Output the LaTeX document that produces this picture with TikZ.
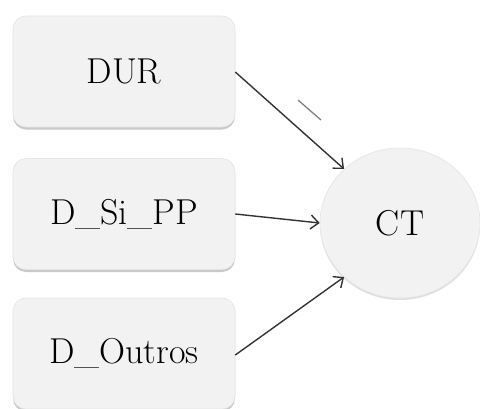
\documentclass[tikz,border=0pt]{standalone}
\usetikzlibrary{shadows,shapes.geometric,arrows.meta}
\definecolor{boxfill}{HTML}{F2F2F2}
\definecolor{boxedge}{HTML}{E4E4E4}
\definecolor{linecol}{HTML}{333333}
\tikzset{
  varbox/.style={draw=boxedge, line width=0.6pt, fill=boxfill, rounded corners=13pt,
    minimum width=222pt, minimum height=111pt, inner sep=0pt,
    drop shadow={shadow xshift=0pt, shadow yshift=-2.5pt, opacity=0.3, fill=black!70},
    font=\fontsize{36}{42}\selectfont},
  target/.style={ellipse, draw=boxedge, line width=0.6pt, fill=boxfill,
    minimum width=160pt, minimum height=150pt, inner sep=0pt,
    drop shadow={shadow xshift=0pt, shadow yshift=-2pt, opacity=0.2, fill=black!60},
    font=\fontsize{36}{42}\selectfont},
  link/.style={draw=linecol, line width=1.4pt,
    -{Straight Barb[length=8pt, width=14pt]}},
}
\begin{document}
\begin{tikzpicture}[x=1pt, y=-1pt]
  \useasboundingbox (0,0) rectangle (480,408);
  \begin{scope}
    \clip (0,0) rectangle (480,408);
    \node[varbox] (dur) at (124,71.5) {DUR};
    \node[varbox] (dsi) at (124,214) {D\_Si\_PP};
    \node[varbox] (dout) at (124,353.5) {D\_Outros};
    \node[target] (ct) at (400,223) {CT};
  \end{scope}
  \draw[link] (dur.east |- 0,72) -- (ct.136);
  \draw[link] (dsi.east) -- (ct.180);
  \draw[link] (dout.east |- 0,355) -- (ct.224);
  % short stroke beside the upper connector
  \coordinate (m1) at (298,100);
  \coordinate (m2) at (321,120);
  \draw[gray, line width=1.3pt] (m1) -- (m2);
\end{tikzpicture}
\end{document}
